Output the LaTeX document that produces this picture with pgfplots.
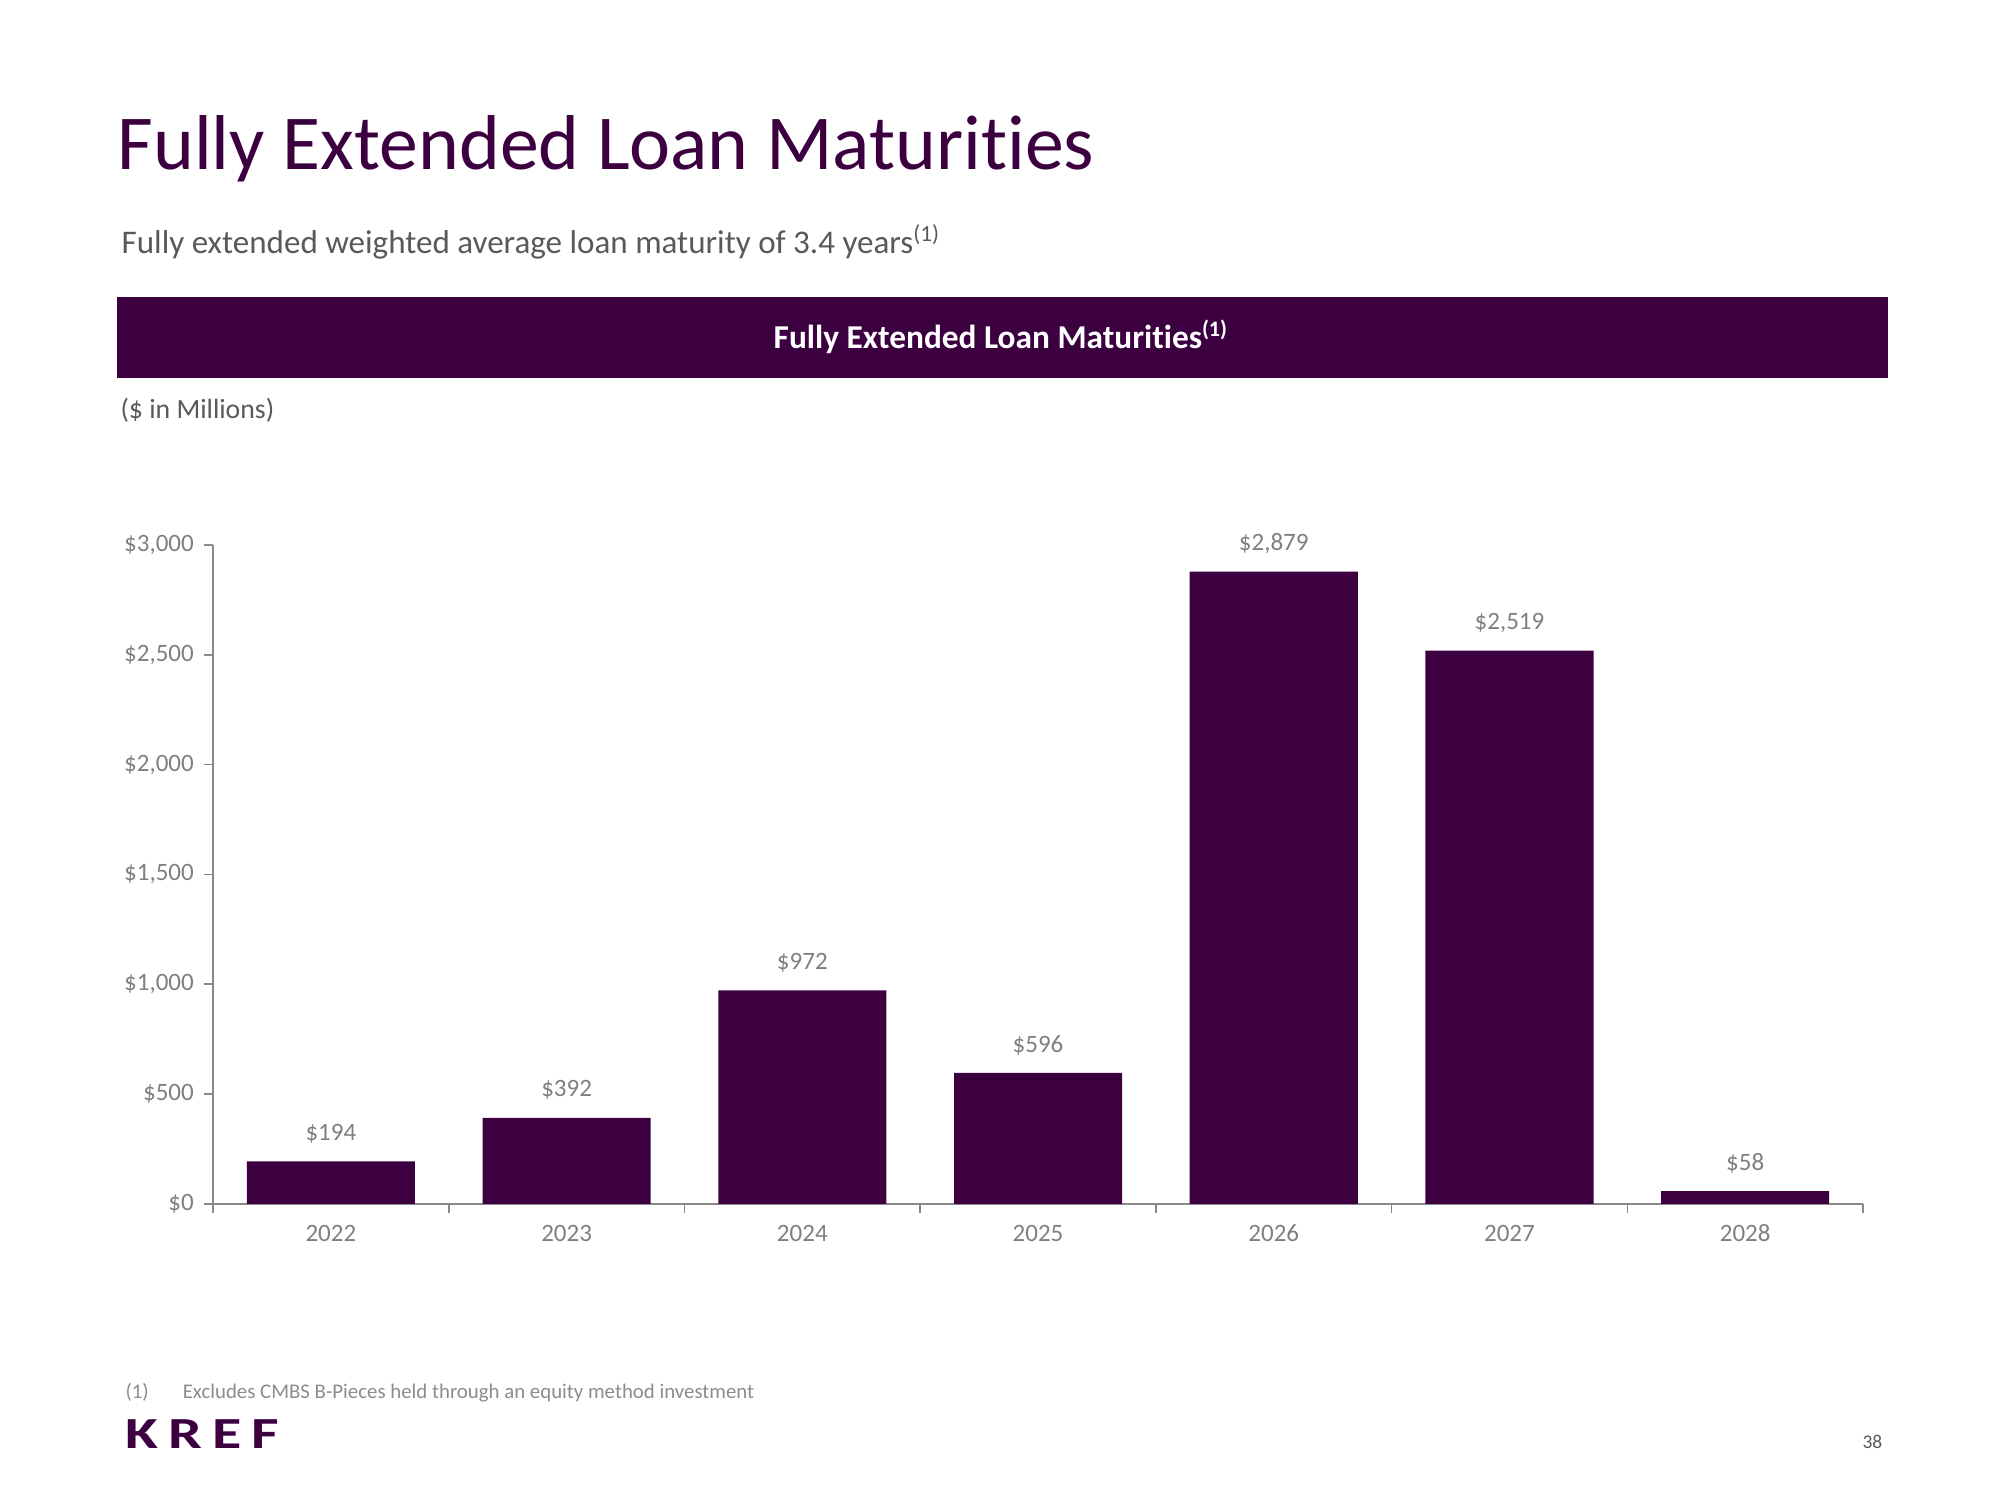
\documentclass[border=0pt]{standalone}
\usepackage{pgfplots}
\pgfplotsset{compat=1.18}
\usepackage{fontspec}
\setmainfont{Carlito}[Ligatures={NoCommon}]
\definecolor{kpurple}{HTML}{3C0041}
\definecolor{tickgray}{HTML}{7F7F7F}
\definecolor{axisgray}{HTML}{898989}
\definecolor{subgray}{HTML}{595959}
\definecolor{notegray}{HTML}{8C8C8C}
\begin{document}
\begin{tikzpicture}
% slide frame: 2000x1500 px at 0.36pt per px
\path (0,0) rectangle (720pt,540pt);
\node[anchor=base west, text=kpurple, font=\fontsize{28}{32}\selectfont, inner sep=0pt]
  at (42.1pt,478.8pt) {Fully Extended Loan Maturities};
\node[anchor=base west, text=subgray, font=\fontsize{11.9}{14}\selectfont, inner sep=0pt]
  at (43.6pt,448.6pt) {Fully extended weighted average loan maturity of 3.4 years\textsuperscript{(1)}};
\fill[kpurple] (42.1pt,403.9pt) rectangle (679.7pt,433.1pt);
\node[text=white, font=\bfseries\fontsize{12}{14}\selectfont, inner sep=0pt]
  at (360.4pt,418.8pt) {Fully Extended Loan Maturities\textsuperscript{(1)}};
\node[anchor=base west, text=subgray, font=\fontsize{10}{12}\selectfont, inner sep=0pt]
  at (43.2pt,389.2pt) {(\$ in Millions)};
\node[anchor=base west, text=notegray, font=\fontsize{7.5}{9}\selectfont, inner sep=0pt]
  at (45pt,36.4pt) {(1)};
\node[anchor=base west, text=notegray, font=\fontsize{7.5}{9}\selectfont, inner sep=0pt]
  at (65.6pt,36.4pt) {Excludes CMBS B-Pieces held through an equity method investment};
\node[anchor=base west, text=kpurple, font=\bfseries\fontsize{16}{18}\selectfont\addfontfeature{LetterSpace=17}, inner sep=0pt]
  at (45pt,18.7pt) {\scalebox{1.35}[1]{KREF}};
\node[anchor=base east, text=subgray, font=\fontsize{7}{8}\selectfont, inner sep=0pt]
  at (677.8pt,18.7pt) {38};

\begin{axis}[
    at={(76.7pt,106.6pt)}, anchor=south west,
    scale only axis, width=594pt, height=237.2pt,
    ybar, bar width=60.5pt,
    xmin=-0.5, xmax=6.5, ymin=0, ymax=3000,
    axis x line*=bottom, axis y line*=left,
    axis line style={draw=axisgray, line width=0.6pt},
    tick style={draw=axisgray, line width=0.6pt},
    tick align=outside, major tick length=3.4pt,
    xtick={-0.5,0.5,...,6.5}, xticklabels={},
    extra x ticks={0,1,2,3,4,5,6},
    extra x tick labels={2022,2023,2024,2025,2026,2027,2028},
    extra x tick style={major tick length=0pt},
    ytick={0,500,1000,1500,2000,2500,3000},
    yticklabel={\$\pgfmathprintnumber{\tick}},
    /pgf/number format/.cd, 1000 sep={,}, assume math mode=true, /pgfplots/.cd,
    tick label style={text=tickgray, font=\fontsize{9}{10}\selectfont},
    xticklabel style={yshift=-4pt},
    nodes near coords={\$\pgfmathprintnumber{\pgfplotspointmeta}},
    every node near coord/.append style={text=tickgray, font=\fontsize{9}{10}\selectfont, yshift=3pt},
]
\addplot[fill=kpurple, draw=none] coordinates {(0,194) (1,392) (2,972) (3,596) (4,2879) (5,2519) (6,58)};
\end{axis}
\end{tikzpicture}
\end{document}
